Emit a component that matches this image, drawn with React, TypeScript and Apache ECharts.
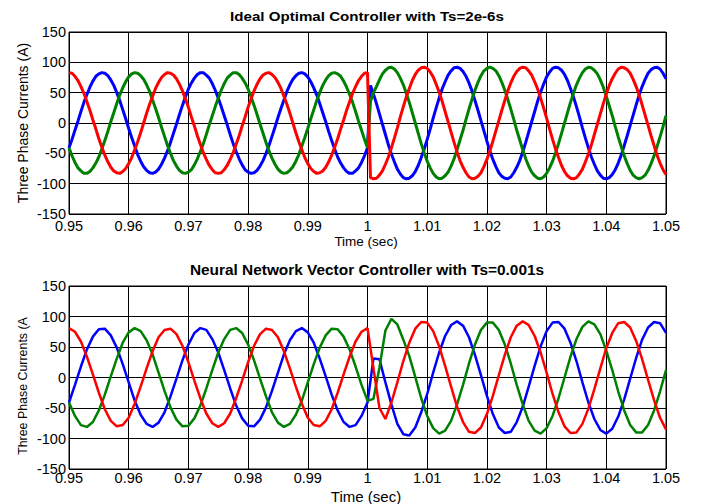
import React, { useEffect, useRef } from "react";
import * as echarts from "echarts";

// Sampling grids (seconds)
const topTime: number[] = Array.from({ length: 201 }, (_, i) => +(0.95 + i * 0.0005).toFixed(4));
const bottomTime: number[] = Array.from({ length: 101 }, (_, i) => +(0.95 + i * 0.001).toFixed(3));

// Top panel: Ideal Optimal Controller (Ts = 2e-6 s), read every 0.5 ms
const topBlue = [
  -41, -27, -12, 3, 19, 34, 47, 59, 69, 77, 81, 83, 82, 78, 71, 62, 50, 37, 22, 7,
  -9, -24, -38, -52, -63, -72, -78, -82, -83, -81, -76, -68, -58, -46, -32, -17, -2, 14, 29, 43,
  56, 66, 74, 80, 83, 83, 79, 74, 65, 54, 41, 27, 12, -3, -19, -34, -47, -59, -69, -77,
  -81, -83, -82, -78, -71, -62, -50, -37, -22, -7, 9, 24, 38, 52, 63, 72, 78, 82, 83, 81,
  76, 68, 58, 46, 32, 17, 2, -14, -29, -43, -56, -66, -74, -80, -83, -83, -79, -74, -65, -54,
  -41,
  62, 48, 32, 15, -2, -19, -36, -51, -64, -76, -84, -90, -92, -91, -87, -80, -70, -57, -43, -27,
  -10, 8, 25, 41, 56, 68, 79, 86, 91, 92, 90, 85, 77, 66, 53, 37, 21, 4, -13, -30,
  -46, -60, -72, -82, -88, -91, -92, -89, -82, -73, -62, -48, -32, -15, 2, 19, 36, 51, 64, 76,
  84, 90, 92, 91, 87, 80, 70, 57, 43, 27, 10, -8, -25, -41, -56, -68, -79, -86, -91, -92,
  -90, -85, -77, -66, -53, -37, -21, -4, 13, 30, 46, 60, 72, 82, 88, 91, 92, 89, 82, 73,
];
const topGreen = [
  -41, -54, -65, -74, -79, -83, -83, -80, -74, -66, -56, -43, -29, -14, 2, 17, 32, 46, 58, 68,
  76, 81, 83, 82, 78, 72, 63, 52, 38, 24, 9, -7, -22, -37, -50, -62, -71, -78, -82, -83,
  -81, -77, -69, -59, -47, -34, -19, -3, 12, 27, 41, 54, 65, 74, 79, 83, 83, 80, 74, 66,
  56, 43, 29, 14, -2, -17, -32, -46, -58, -68, -76, -81, -83, -82, -78, -72, -63, -52, -38, -24,
  -9, 7, 22, 37, 50, 62, 71, 78, 82, 83, 81, 77, 69, 59, 47, 34, 19, 3, -12, -27,
  -41,
  36, 50, 60, 71, 81, 87, 91, 92, 89, 83, 74, 63, 49, 34, 17, 0, -17, -34, -49, -63,
  -74, -83, -89, -92, -91, -87, -81, -71, -59, -44, -28, -12, 6, 23, 39, 54, 67, 78, 86, 90,
  92, 90, 86, 78, 67, 54, 39, 23, 6, -12, -28, -44, -59, -71, -81, -87, -91, -92, -89, -83,
  -74, -63, -49, -34, -17, 0, 17, 34, 49, 63, 74, 83, 89, 92, 91, 87, 81, 71, 59, 44,
  28, 12, -6, -23, -39, -54, -67, -78, -86, -90, -92, -90, -86, -78, -67, -54, -39, -23, -6, 12,
];
const topRed = [
  83, 82, 77, 70, 60, 49, 35, 21, 5, -10, -26, -40, -53, -64, -73, -79, -82, -83, -80, -75,
  -67, -57, -44, -31, -16, 0, 16, 31, 44, 57, 67, 75, 80, 83, 82, 79, 73, 64, 53, 40,
  26, 10, -5, -21, -35, -49, -60, -70, -77, -82, -83, -82, -77, -70, -60, -49, -35, -21, -5, 10,
  26, 40, 53, 64, 73, 79, 82, 83, 80, 75, 67, 57, 44, 31, 16, 0, -16, -31, -44, -57,
  -67, -75, -80, -83, -82, -79, -73, -64, -53, -40, -26, -10, 5, 21, 35, 49, 60, 70, 77, 82,
  83,
  -90, -92, -91, -86, -79, -68, -56, -41, -25, -8, 10, 27, 43, 57, 70, 80, 87, 91, 92, 90,
  84, 76, 64, 51, 36, 19, 2, -15, -32, -48, -62, -73, -82, -89, -92, -91, -88, -82, -72, -60,
  -46, -30, -13, 4, 21, 37, 53, 66, 77, 85, 90, 92, 91, 86, 79, 68, 56, 41, 25, 8,
  -10, -27, -43, -57, -70, -80, -87, -91, -92, -90, -84, -76, -64, -51, -36, -19, -2, 15, 32, 48,
  62, 73, 82, 89, 92, 91, 88, 82, 72, 60, 46, 30, 13, -4, -21, -37, -53, -66, -77, -85,
];

// Bottom panel: Neural Network Vector Controller (Ts = 0.001 s), read every 1 ms
const bottomBlue = [
  -41, -12, 18, 46, 67, 79, 80, 69, 49, 22, -8, -38, -61, -76, -81, -74, -57, -31, -2, 28,
  54, 73, 81, 78, 63, 41, 12, -18, -46, -67, -79, -80, -69, -49, -22, 8, 38, 61, 76, 81,
  74, 57, 31, 2, -28, -54, -73, -81, -78, -63, -41,
  31, 30, -8, -44, -76, -93, -95, -82, -57, -27, 8, 41, 68, 86, 92, 85, 66, 37, 4, -30,
  -60, -82, -91, -89, -73, -48, -15, 19, 51, 76, 90, 91, 80, 57, 27, -8, -41, -68, -86, -92,
  -84, -64, -36, -2, 32, 62, 82, 91, 89, 73,
];
const bottomGreen = [
  -41, -63, -78, -81, -73, -54, -28, 2, 31, 57, 74, 81, 76, 61, 38, 8, -22, -49, -69, -80,
  -79, -67, -46, -18, 12, 41, 63, 78, 81, 73, 54, 28, -2, -31, -57, -74, -81, -76, -61, -38,
  -8, 22, 49, 69, 80, 79, 67, 46, 18, -12, -38,
  -35, 16, 77, 96, 87, 62, 35, 1, -34, -63, -83, -92, -87, -71, -44, -12, 23, 54, 78, 90,
  90, 78, 54, 23, -12, -44, -71, -87, -92, -83, -63, -34, 0, 34, 63, 83, 92, 87, 71, 44,
  12, -23, -54, -78, -90, -90, -78, -54, -23, 12,
];
const bottomRed = [
  81, 75, 59, 34, 5, -25, -52, -71, -80, -78, -66, -43, -15, 15, 43, 66, 78, 80, 71, 52,
  25, -5, -34, -59, -75, -81, -75, -59, -34, -5, 25, 52, 71, 80, 78, 66, 43, 15, -15, -43,
  -66, -78, -80, -71, -52, -25, 5, 34, 59, 75, 81,
  15, -50, -68, -41, -8, 27, 57, 80, 91, 90, 76, 51, 19, -15, -48, -73, -89, -91, -82, -60,
  -30, 4, 37, 66, 85, 92, 86, 68, 41, 8, -27, -57, -80, -91, -90, -76, -51, -19, 15, 48,
  73, 89, 91, 82, 60, 30, -4, -37, -66, -85,
];

const titles = [
  "Ideal Optimal Controller with Ts=2e-6s",
  "Neural Network Vector Controller with Ts=0.001s",
];
const yNames = ["Three Phase Currents (A)", "Three Phase Currents (A"];
const xName = "Time (sec)";

const FONT = "'Liberation Sans', Arial, Helvetica, sans-serif";

export default function App() {
  const ref = useRef<HTMLDivElement>(null);
  useEffect(() => {
    if (!ref.current) return;
    const chart = echarts.init(ref.current, undefined, { renderer: "svg" });
    const pair = (ts: number[], vs: number[]) => ts.map((t, i) => [t, vs[i]]);
    const fmtX = (v: number) => String(Math.round(v * 100) / 100);
    const xAx = (gi: number, margin: number) => ({
      gridIndex: gi,
      type: "value",
      min: 0.95,
      max: 1.05,
      interval: 0.01,
      axisLine: { show: false },
      axisTick: { show: false },
      splitLine: { show: true, lineStyle: { color: "#000", width: 1 } },
      axisLabel: { formatter: fmtX, fontSize: 14.5, color: "#000", margin, fontFamily: FONT },
    });
    const yAx = (gi: number) => ({
      gridIndex: gi,
      type: "value",
      min: -150,
      max: 150,
      interval: 50,
      axisLine: { show: false },
      axisTick: { show: false },
      splitLine: { show: true, lineStyle: { color: "#000", width: 1 } },
      axisLabel: { fontSize: 14.5, color: "#000", margin: 3, fontFamily: FONT },
    });
    const line = (gi: number, ts: number[], vs: number[], color: string, w: number) => ({
      type: "line",
      xAxisIndex: gi,
      yAxisIndex: gi,
      data: pair(ts, vs),
      symbol: "none",
      showSymbol: false,
      smooth: false,
      lineStyle: { color, width: w },
      itemStyle: { color },
    });
    const txt = (
      x: number,
      y: number,
      text: string,
      size: number,
      bold = false,
      rot = 0,
      sx = 1
    ) => ({
      type: "text",
      x,
      y,
      rotation: rot,
      scaleX: sx,
      style: {
        text,
        fill: "#000",
        fontSize: size,
        fontWeight: bold ? "bold" : "normal",
        fontFamily: FONT,
        textAlign: "center",
        textVerticalAlign: "middle",
      },
    });
    chart.setOption({
      animation: false,
      backgroundColor: "#fff",
      grid: [
        { left: 69, top: 32, width: 597, height: 182, show: true, borderColor: "#000", borderWidth: 1, backgroundColor: "transparent" },
        { left: 69, top: 286, width: 597, height: 183, show: true, borderColor: "#000", borderWidth: 1, backgroundColor: "transparent" },
      ],
      xAxis: [xAx(0, 4), xAx(1, 1)],
      yAxis: [yAx(0), yAx(1)],
      series: [
        line(0, topTime, topBlue, "#0000ff", 3),
        line(0, topTime, topGreen, "#008000", 3),
        line(0, topTime, topRed, "#ff0000", 3),
        line(1, bottomTime, bottomBlue, "#0000ff", 2.5),
        line(1, bottomTime, bottomGreen, "#008000", 2.5),
        line(1, bottomTime, bottomRed, "#ff0000", 2.5),
      ],
      graphic: [
        txt(367, 16, titles[0], 12.6, true, 0, 1.2),
        txt(367, 270, titles[1], 14, true, 0, 1.1),
        txt(366, 241, xName, 13.5),
        txt(366, 496, xName, 15),
        txt(23, 123, yNames[0], 14, false, Math.PI / 2),
        txt(23, 386, yNames[1], 12.4, false, Math.PI / 2),
      ],
    });
    return () => chart.dispose();
  }, []);
  return (
    <div
      ref={ref}
      style={{ position: "fixed", left: 0, top: 0, width: 704, height: 504, background: "#fff" }}
    />
  );
}
